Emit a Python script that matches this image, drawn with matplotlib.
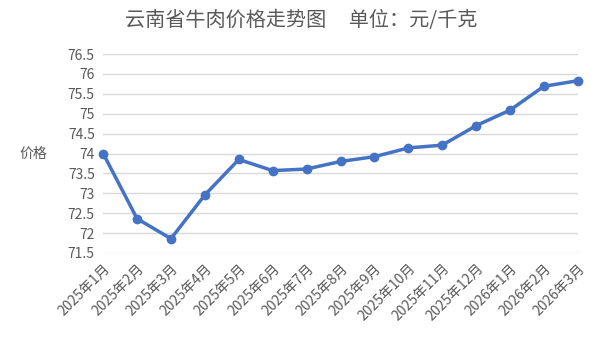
import matplotlib
matplotlib.use("Agg")
import matplotlib.pyplot as plt

plt.rcParams['font.family'] = ['Noto Sans CJK SC', 'DejaVu Sans']

months = ["2025年1月", "2025年2月", "2025年3月", "2025年4月", "2025年5月",
          "2025年6月", "2025年7月", "2025年8月", "2025年9月", "2025年10月",
          "2025年11月", "2025年12月", "2026年1月", "2026年2月", "2026年3月"]
prices = [74.0, 72.36, 71.86, 72.96, 73.85, 73.57, 73.61, 73.80, 73.92,
          74.14, 74.21, 74.70, 75.09, 75.69, 75.83]
yticks = [71.5, 72, 72.5, 73, 73.5, 74, 74.5, 75, 75.5, 76, 76.5]
ytick_labels = ["71.5", "72", "72.5", "73", "73.5", "74", "74.5", "75", "75.5", "76", "76.5"]

txt = '#595959'
fig = plt.figure(figsize=(6, 3.4), dpi=100)
ax = fig.add_axes([0.172, 0.256, 0.791, 0.585])

x = list(range(len(months)))
ax.plot(x, prices, color='#4472C4', linewidth=2.5, marker='o', markersize=6, zorder=3)

ax.set_xlim(0, len(months) - 1)
ax.set_ylim(71.5, 76.5)
ax.set_yticks(yticks)
ax.set_yticklabels(ytick_labels, color=txt, fontsize=10)
ax.set_xticks(x)
ax.set_xticklabels(months, rotation=45, ha='right', rotation_mode='anchor',
                   color=txt, fontsize=10)
ax.tick_params(length=0, pad=6)
ax.grid(axis='y', color='#d9d9d9', linewidth=1)
ax.set_axisbelow(True)
for s in ax.spines.values():
    s.set_visible(False)
for line in ax.get_lines():
    line.set_clip_on(False)

fig.text(0.055, 0.547, "价格", color=txt, fontsize=10, ha='center', va='center')
fig.text(0.502, 0.94, "云南省牛肉价格走势图     单位：元/千克", color=txt,
         fontsize=14.5, ha='center', va='center')

fig.savefig("out.png", dpi=100)
